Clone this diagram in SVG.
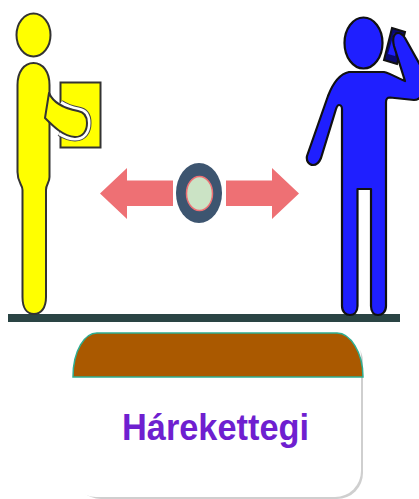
<svg xmlns="http://www.w3.org/2000/svg" width="419" height="499" viewBox="0 0 419 499">
<style>
.y{fill:#ffff00;stroke:#333;stroke-width:2}
.b{fill:#1f1fff;stroke:#111;stroke-width:2.2;stroke-linejoin:round}
.a{fill:#ee7074}
.h{fill:none}
text{font-family:"Liberation Sans",Arial,sans-serif;font-weight:700;font-size:36.500px;fill:#6f1fd0}
</style>
<defs><path id="halo" d="M60 104C66 108 72 110 78 111C84 112 87 116 87 123C87 131 83 137 75 137C70 137 65 135 60 132"/></defs>
<rect width="419" height="499" fill="#fff"/>
<g id="ground"><rect x="8" y="314" width="392" height="8" fill="#2a4444"/></g>
<g id="person-left">
<ellipse class="y" cx="33.500" cy="35" rx="17" ry="21.500"/>
<rect class="y" x="60.500" y="82.500" width="40" height="65"/>
<path class="y" d="M17.500 85C17.500 72 24 63 33.500 63C43 63 49.500 72 49.500 85V177C49.500 183 46 184 46 190V297C46 308 41 314 34 314C27 314 22.500 308 22.500 297V190C22.500 184 17.500 183 17.500 172Z"/>
<use href="#halo" class="h" stroke="#444" stroke-width="9"/>
<use href="#halo" class="h" stroke="#fff" stroke-width="7"/>
<path d="M49 93C53 102 62 108 78 111C84 112 87 116 87 123C87 131 83 137 75 137C63 136 54 127 45 118Z" fill="#ffff00" stroke="#333" stroke-width="2" stroke-linejoin="round"/>
</g>
<g id="person-right">
<path d="M392 28L405 32L397 64L384 60Z" fill="#0a0a70" stroke="#111" stroke-width="2"/>
<path d="M394 33L402 36L395 56L388 54Z" fill="#1f1fff"/>
<ellipse class="b" cx="363.500" cy="43" rx="19" ry="25.500"/>
<path class="b" d="M349 72H384C390 73 397 78 405 81L394 46C392 38 394 33 398 33C401 33 403 35 405 38L424 72C426 85 424 100 414 100L390 97.500C387 97.500 386 99 386 102V306C386 312 382 315 378 315C374 315 371 312 371 306V189H357.500V306C357.500 312 354 315 350 315C346 315 342 312 342 306V109C342 106 340 105 339 105C338 105 337 106 336 109L321 158C319 163 316 165 313 165C309 165 306 161 307 156L328 96C333 83 339 74 349 72Z"/>
</g>
<g id="connectors">
<path class="a" d="M100 193.500L127 168V180.500H173V206H127V219Z"/>
<path class="a" d="M299 193.500L272 168V180.500H226V206H272V219Z"/>
</g>
<g id="ring">
<ellipse cx="199" cy="193" rx="23" ry="30" fill="#3d5570"/>
<ellipse cx="199.500" cy="193.500" rx="13" ry="17" fill="#cbe3c5" stroke="#ee7074" stroke-width="1.500"/>
</g>
<g id="card">
<rect x="75" y="336" width="288" height="163" rx="26" fill="#cfcfcf"/>
<rect x="70" y="330" width="291" height="167" rx="26" fill="#fff"/>
<path d="M73 377C73 350 85 333 97 333H337C350 333 363 352 363 377Z" fill="#aa5900" stroke="#2fae91" stroke-width="1.500"/>
<text x="122" y="440" textLength="187" lengthAdjust="spacingAndGlyphs">Hárekettegi</text>
</g>
</svg>
